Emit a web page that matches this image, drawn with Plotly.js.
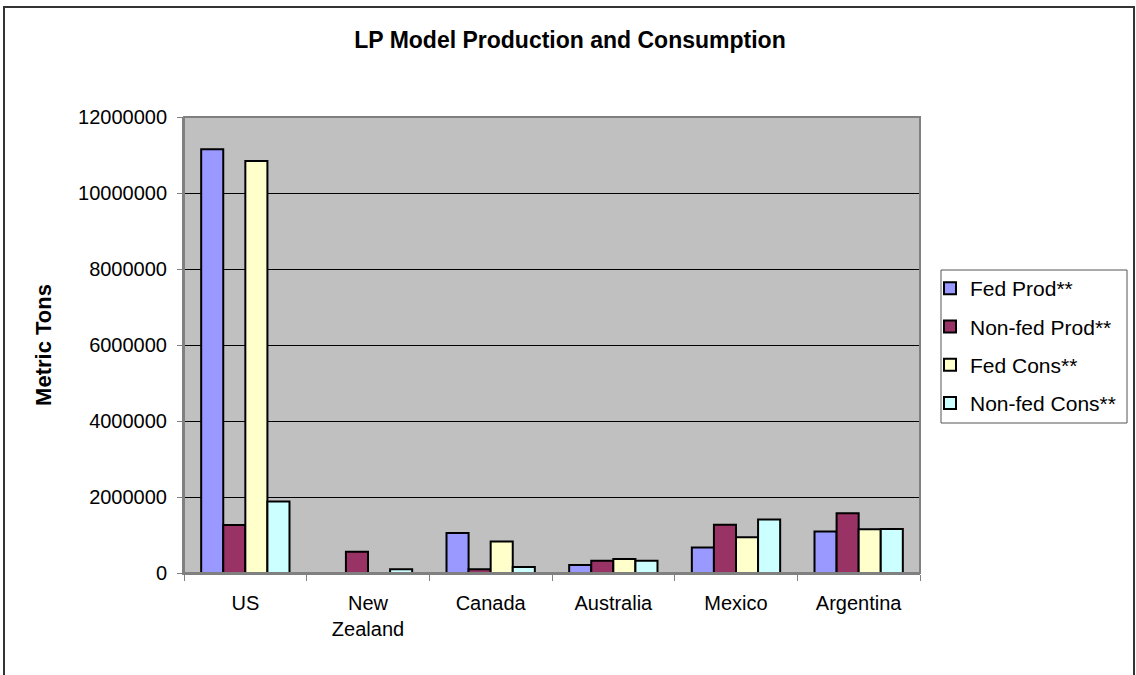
<!DOCTYPE html>
<html>
<head>
<meta charset="utf-8">
<script src="https://cdn.plot.ly/plotly-3.0.1.min.js"></script>
<style>
  html, body { margin: 0; padding: 0; background: #ffffff; }
  #chart { width: 1136px; height: 675px; }
</style>
</head>
<body>
<div id="chart"></div>
<script>
// Countries and their display labels
const categories = ['US', 'New Zealand', 'Canada', 'Australia', 'Mexico', 'Argentina'];
const tickLabels = ['US', 'New<br>Zealand', 'Canada', 'Australia', 'Mexico', 'Argentina'];

// Metric tons per country
const fedProd    = [11150000, 0, 1050000, 210000, 670000, 1090000];
const nonfedProd = [1260000, 560000, 100000, 320000, 1270000, 1570000];
const fedCons    = [10840000, 0, 830000, 370000, 940000, 1150000];
const nonfedCons = [1880000, 100000, 160000, 320000, 1410000, 1160000];

const seriesNames = ['Fed Prod**', 'Non-fed Prod**', 'Fed Cons**', 'Non-fed Cons**'];
const seriesColors = ['#9999FF', '#993366', '#FFFFCC', '#CCFFFF'];
const seriesValues = [fedProd, nonfedProd, fedCons, nonfedCons];

const FONT = 'Liberation Sans, Arial, Helvetica, sans-serif';

const traces = seriesValues.map((vals, i) => ({
  type: 'bar',
  name: seriesNames[i],
  x: categories,
  y: vals,
  legendgroup: 'g' + i,
  marker: { color: seriesColors[i], line: { color: '#000000', width: 2 } },
  hoverinfo: 'x+y+name'
}));

// Plot area in pixels: x 184..920, y 117..573
const L = 184, R = 920, T = 117, B = 573;
const W = R - L, H = B - T;
const px = v => (v - L) / W;
const py = v => (B - v) / H;

const layout = {
  width: 1136,
  height: 675,
  margin: { l: L, r: 1136 - R, t: T, b: 675 - B, pad: 0 },
  paper_bgcolor: '#ffffff',
  plot_bgcolor: '#C0C0C0',
  font: { family: FONT, size: 20, color: '#000000' },
  title: {
    text: '<b>LP Model Production and Consumption</b>',
    font: { family: FONT, size: 23, color: '#000000' },
    x: 570 / 1136, xref: 'container', xanchor: 'center',
    y: 1 - 40 / 675, yref: 'container', yanchor: 'middle'
  },
  barmode: 'group',
  bargap: 0.28,
  bargroupgap: 0,
  showlegend: true,
  legend: {
    x: px(930), xanchor: 'left',
    y: py(268), yanchor: 'top',
    bgcolor: 'rgba(0,0,0,0)',
    borderwidth: 0,
    font: { family: FONT, size: 21, color: '#000000' },
    tracegroupgap: 8,
    traceorder: 'grouped'
  },
  xaxis: {
    type: 'category',
    tickvals: categories,
    ticktext: tickLabels,
    showgrid: false,
    zeroline: false,
    showline: true,
    linecolor: '#808080',
    linewidth: 2,
    ticks: 'outside',
    tickson: 'boundaries',
    ticklen: 6,
    tickcolor: '#808080',
    tickwidth: 1,
    ticklabelstandoff: 11,
    tickfont: { family: FONT, size: 20, color: '#000000' },
    automargin: false,
    fixedrange: true
  },
  yaxis: {
    range: [0, 12000000],
    dtick: 2000000,
    tick0: 0,
    tickformat: 'd',
    showgrid: true,
    gridcolor: '#000000',
    gridwidth: 1,
    zeroline: false,
    showline: true,
    linecolor: '#808080',
    linewidth: 2,
    ticks: 'outside',
    ticklen: 5,
    tickcolor: '#808080',
    tickwidth: 1,
    ticklabelstandoff: 6,
    tickfont: { family: FONT, size: 20, color: '#000000' },
    title: {
      text: '<b>Metric Tons</b>',
      font: { family: FONT, size: 22, color: '#000000' },
      standoff: 20
    },
    automargin: false,
    fixedrange: true
  },
  shapes: [
    // outer chart frame
    { type: 'rect', xref: 'paper', yref: 'paper', layer: 'below',
      x0: px(4), x1: px(1134), y0: py(690), y1: py(7),
      line: { color: '#333333', width: 2 }, fillcolor: 'rgba(0,0,0,0)' },
    // plot-area border
    { type: 'rect', xref: 'paper', yref: 'paper', layer: 'above',
      x0: 0, x1: 1, y0: 0, y1: 1,
      line: { color: '#808080', width: 2 }, fillcolor: 'rgba(0,0,0,0)' },
    // legend box
    { type: 'rect', xref: 'paper', yref: 'paper', layer: 'above',
      x0: px(941), x1: px(1127), y0: py(423), y1: py(270),
      line: { color: '#555555', width: 1 }, fillcolor: '#ffffff' }
  ]
};

Plotly.newPlot('chart', traces, layout, { displayModeBar: false, staticPlot: true });
</script>
</body>
</html>
